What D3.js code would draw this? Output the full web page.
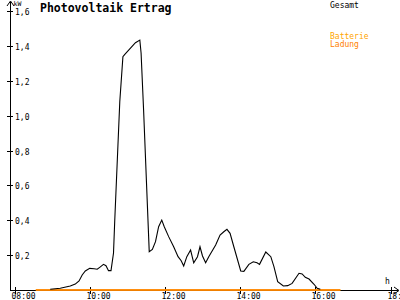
<!DOCTYPE html>
<html><head><meta charset="utf-8">
<script src="https://cdn.jsdelivr.net/npm/d3@7"></script>
<style>
html,body{margin:0;padding:0;background:#fff;}
svg{display:block;}
text{font-family:"DejaVu Sans Mono",monospace;}
</style></head>
<body>
<script>
// ---- data ----
const title = "Photovoltaik Ertrag";
const yTicks = [0.2, 0.4, 0.6, 0.8, 1.0, 1.2, 1.4, 1.6];
const xTickLabels = ["08:00", "10:00", "12:00", "14:00", "16:00", "18:00"];
const gesamtTimes = ["08:57","09:13","09:29","09:37","09:43","09:48","09:53","10:00","10:07","10:12",
  "10:16","10:22","10:26","10:30","10:34","10:38","10:40","10:48","10:53","10:56",
  "11:13","11:20","11:22","11:26","11:35","11:40","11:45","11:50","11:55","11:59",
  "12:06","12:14","12:21","12:26","12:30","12:35","12:41","12:46","12:52","12:56",
  "13:00","13:05","13:10","13:21","13:28","13:34","13:39","13:44","13:50","14:01",
  "14:06","14:14","14:21","14:27","14:31","14:41","14:49","14:54","15:00","15:09",
  "15:16","15:23","15:34","15:39","15:44","15:50","15:58","16:03","16:08"];
const gesamtValues = [0.004,0.010,0.023,0.034,0.052,0.086,0.109,0.124,0.122,0.119,
  0.130,0.147,0.139,0.111,0.111,0.212,0.401,1.080,1.338,1.351,
  1.418,1.433,1.359,1.032,0.220,0.233,0.277,0.363,0.401,0.363,
  0.306,0.248,0.191,0.168,0.138,0.191,0.229,0.156,0.191,0.248,
  0.195,0.156,0.191,0.258,0.315,0.334,0.348,0.325,0.248,0.109,
  0.107,0.147,0.162,0.156,0.147,0.218,0.191,0.134,0.048,0.023,
  0.025,0.038,0.096,0.092,0.073,0.063,0.033,0.010,0.004];
const batterieTimes = ["08:34", "16:40"];
const batterieValues = [0, 0];
const ladungTimes = ["08:34", "16:40"];
const ladungValues = [0, 0];
const legendLabels = ["Gesamt", "Batterie", "Ladung"];

// ---- helpers ----
const toH = s => { const [h, m] = s.split(":").map(Number); return h + m / 60; };
const W = 400, H = 300;
const x = d3.scaleLinear().domain([8, 18]).range([14.5, 390.5]);
const y = d3.scaleLinear().domain([0, 1.6]).range([290, 11]);

const svg = d3.select("body").append("svg").attr("width", W).attr("height", H);

// title
svg.append("text").attr("x", 40).attr("y", 11.7).attr("font-size", 11.5)
  .attr("font-weight", "bold").attr("fill", "#000").text(title);

// legend
const legendColors = ["#000", "#FFA500", "#FF8000"];
const legendY = [7.5, 38.5, 46.5];
legendLabels.forEach((l, i) => {
  svg.append("text").attr("x", 330).attr("y", legendY[i]).attr("font-size", 8)
    .attr("fill", legendColors[i]).text(l);
});

// y axis
const ax = svg.append("g").attr("shape-rendering", "crispEdges");
ax.append("line").attr("x1", 10.5).attr("x2", 10.5).attr("y1", 290).attr("y2", 2).attr("stroke", "#000");
svg.append("path").attr("d", "M7,6 L10.5,1 L14,6").attr("fill", "none").attr("stroke", "#000");
svg.append("text").attr("x", 13.5).attr("y", 6).attr("font-size", 6.5).text("kW");
yTicks.forEach(v => {
  const yy = Math.round(y(v)) + 0.5;
  ax.append("line").attr("x1", 7).attr("x2", 13).attr("y1", yy).attr("y2", yy).attr("stroke", "#000");
  svg.append("text").attr("x", 15).attr("y", yy + 3).attr("font-size", 8)
    .text(d3.format(".1f")(v).replace(".", ","));
});

// x axis
ax.append("line").attr("x1", 10).attr("x2", 398).attr("y1", 290.5).attr("y2", 290.5).attr("stroke", "#000");
svg.append("path").attr("d", "M394,287 L399,290.5 L394,294").attr("fill", "none").attr("stroke", "#000");
svg.append("text").attr("x", 385).attr("y", 283.5).attr("font-size", 8).text("h");
xTickLabels.forEach(l => {
  const xx = Math.round(x(toH(l))) + 0.5;
  ax.append("line").attr("x1", xx).attr("x2", xx).attr("y1", 287).attr("y2", 294).attr("stroke", "#000");
  svg.append("text").attr("x", xx - 4).attr("y", 299.3).attr("font-size", 8).text(l);
});

// series
const line = d3.line().x(d => x(d[0])).y(d => y(d[1]));
const mk = (ts, vs) => ts.map((t, i) => [toH(t), vs[i]]);
svg.append("path").datum(mk(batterieTimes, batterieValues)).attr("d", line)
  .attr("fill", "none").attr("stroke", "#FFA500").attr("stroke-width", 1.4);
svg.append("path").datum(mk(ladungTimes, ladungValues)).attr("d", line)
  .attr("fill", "none").attr("stroke", "#FF8000").attr("stroke-width", 1.4);
svg.append("path").datum(mk(gesamtTimes, gesamtValues)).attr("d", line)
  .attr("fill", "none").attr("stroke", "#000").attr("stroke-width", 1.1);
</script>
</body></html>
